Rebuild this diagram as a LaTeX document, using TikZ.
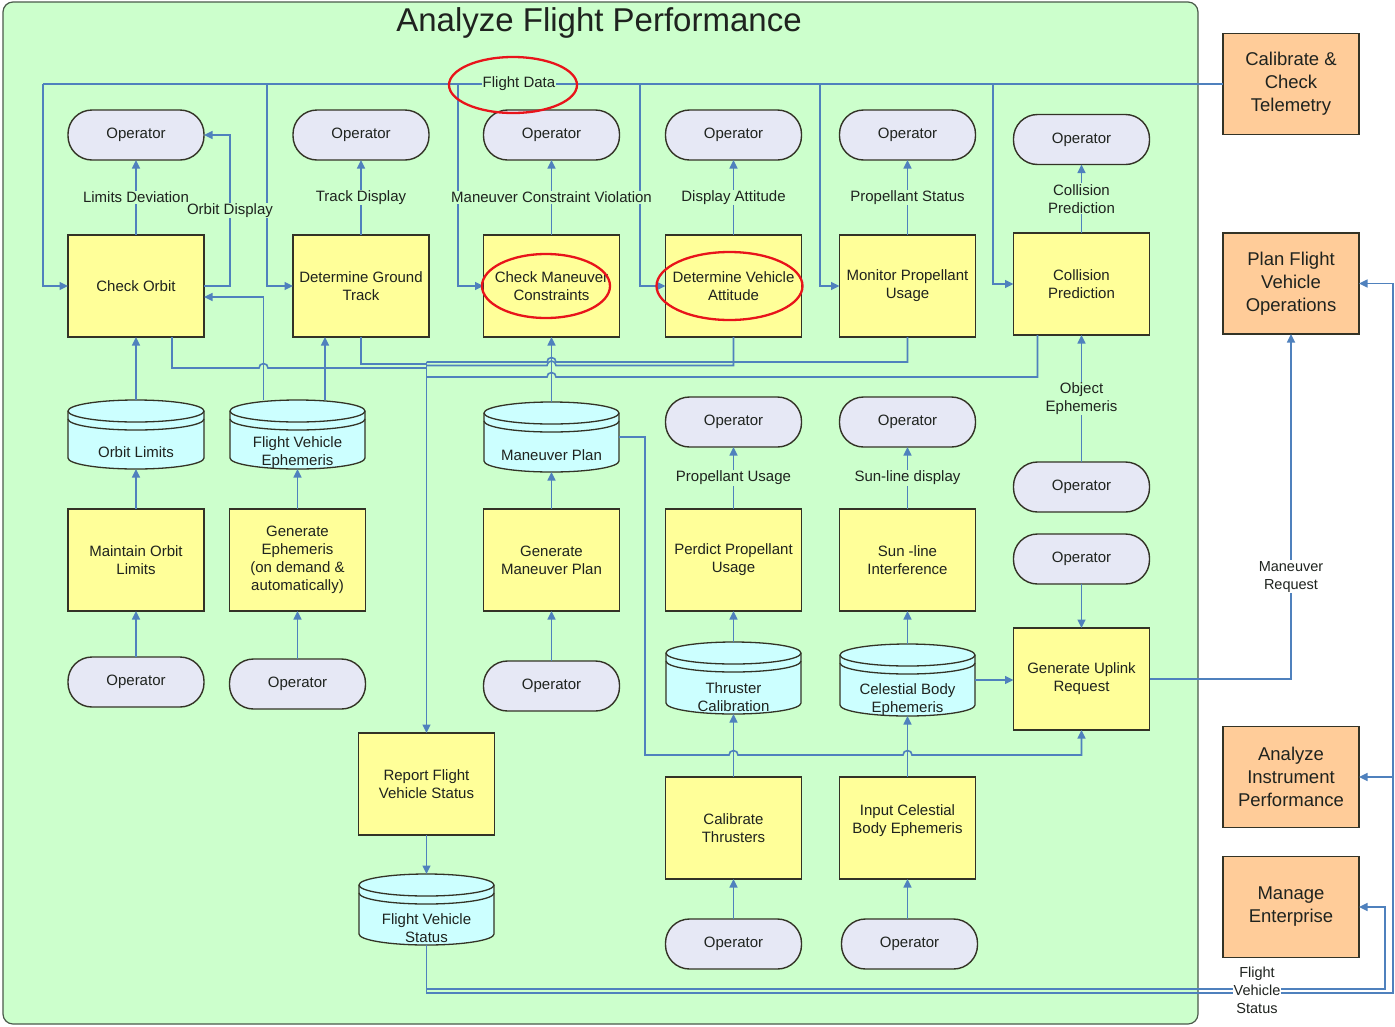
\documentclass[tikz,border=0pt]{standalone}
\usepackage{fontspec}
\setmainfont{Liberation Sans}
\usetikzlibrary{arrows.meta,calc}

\definecolor{bggreen}{HTML}{CCFFCC}
\definecolor{procfill}{HTML}{FFFF99}
\definecolor{opfill}{HTML}{E6E8F5}
\definecolor{dsfill}{HTML}{CCFFFF}
\definecolor{extfill}{HTML}{FFCC99}
\definecolor{flow}{HTML}{4F81BD}
\definecolor{edge}{HTML}{333326}
\definecolor{ink}{HTML}{1F231F}
\definecolor{ringred}{HTML}{E8141B}
\definecolor{frame}{HTML}{4A5A4A}

\tikzset{
  txt/.style={text=ink, font=\fontsize{15}{18}\selectfont},
  proc/.style={txt, draw=edge, line width=1.4pt, fill=procfill, minimum width=136pt,
    minimum height=102pt, inner sep=2pt, outer sep=0pt, align=center},
  oper/.style={txt, draw=edge, line width=1.4pt, fill=opfill, rounded corners=24pt,
    minimum width=136pt, minimum height=50pt, inner sep=2pt, outer sep=0pt},
  ext/.style={draw=edge, line width=1.4pt, fill=extfill, minimum width=136pt,
    minimum height=101pt, outer sep=0pt, align=center, text=ink,
    font=\fontsize{18.5}{23}\selectfont},
  dsline/.style={draw=edge, line width=1.3pt},
  dstext/.style={txt, align=center, inner sep=0pt},
  conn/.style={draw=flow, line width=1.6pt},
  arr/.style={conn, -{Triangle[length=8.5pt,width=8pt]}},
  lbl/.style={txt, fill=bggreen, inner sep=1pt, align=center},
  lblw/.style={lbl, fill=white, font=\fontsize{14.5}{18}\selectfont},
  ring/.style={draw=ringred, line width=2.3pt},
}

% data store: name, left, top, right, bottom, text
\newcommand\dstore[6]{%
  \filldraw[dsline, fill=dsfill] (#2,{#3+11}) -- (#2,{#5-11})
     arc[start angle=180,end angle=360,x radius={(#4-#2)/2*1pt},y radius=11pt]
     -- (#4,{#3+11})
     arc[start angle=0,end angle=180,x radius={(#4-#2)/2*1pt},y radius=11pt] -- cycle;
  \draw[dsline] (#2,{#3+11}) arc[start angle=180,end angle=360,x radius={(#4-#2)/2*1pt},y radius=11pt];
  \draw[dsline] (#2,{#3+19}) arc[start angle=180,end angle=360,x radius={(#4-#2)/2*1pt},y radius=11pt];
  \node[inner sep=0pt,outer sep=0pt,minimum width={(#4-#2)*1pt},minimum height={(#5-#3)*1pt}]
    (#1) at ({(#2+#4)/2},{(#3+#5)/2}) {};
  \node[dstext] (#1-t) at ({(#2+#4)/2},{#5-16.5}) {#6};
}

\begin{document}
\begin{tikzpicture}[x=1pt,y=-1pt]
\useasboundingbox (0,0) rectangle (1395,1026);
\fill[white] (0,0) rectangle (1395,1026);

% container
\filldraw[fill=bggreen, draw=frame, line width=1.2pt, rounded corners=10pt] (3,2) rectangle (1198,1024);
\node[text=ink, font=\fontsize{33}{38}\selectfont] (title) at (599,23) {Analyze Flight Performance};

% external processes
\node[ext] (cct) at (1291,84) {Calibrate \&\\Check\\Telemetry};
\node[ext] (pfv) at (1291,283.5) {Plan Flight\\Vehicle\\Operations};
\node[ext] (aip) at (1291,777) {Analyze\\Instrument\\Performance};
\node[ext] (men) at (1291,907) {Manage\\Enterprise};

% top row
\node[oper] (op1) at (136,135) {Operator};
\node[oper] (op2) at (361,135) {Operator};
\node[oper] (op3) at (551.5,135) {Operator};
\node[oper] (op4) at (733.5,135) {Operator};
\node[oper] (op5) at (907.5,135) {Operator};
\node[oper] (op6) at (1081.5,139.5) {Operator};

\node[proc] (co)  at (136,286) {Check Orbit};
\node[proc] (dgt) at (361,286) {Determine Ground\\Track};
\node[proc] (cmc) at (551.5,286) {Check Maneuver\\Constraints};
\node[proc] (dva) at (733.5,286) {Determine Vehicle\\Attitude};
\node[proc] (mpu) at (907.5,286) {Monitor Propellant\\Usage};
\node[proc] (cp)  at (1081.5,284) {Collision\\Prediction};

% stores, second row
\dstore{olim}{68}{400}{204}{469}{Orbit Limits}
\dstore{fve}{230}{400}{365}{469}{Flight Vehicle\\Ephemeris}
\dstore{mplan}{484}{402}{619}{472}{Maneuver Plan}
\node[oper] (opPU) at (733.5,422) {Operator};
\node[oper] (opSL) at (907.5,422) {Operator};
\node[oper] (opOE) at (1081.5,487) {Operator};
\node[oper] (opGU) at (1081.5,559) {Operator};

% third row
\node[proc] (mol) at (136,560) {Maintain Orbit\\Limits};
\node[proc] (gen) at (297.5,560) {Generate\\Ephemeris\\(on demand \&\\automatically)};
\node[proc] (gmp) at (551.5,560) {Generate\\Maneuver Plan};
\node[proc] (ppu) at (733.5,560) {Perdict Propellant\\Usage};
\node[proc] (sli) at (907.5,560) {Sun -line\\Interference};
\node[proc] (gur) at (1081.5,679) {Generate Uplink\\Request};

% fourth row
\node[oper] (opMO) at (136,682) {Operator};
\node[oper] (opGE) at (297.5,684) {Operator};
\node[oper] (opGM) at (551.5,686) {Operator};
\dstore{tcal}{666}{642}{801}{714}{Thruster\\Calibration}
\dstore{cbe}{840}{644}{975}{716}{Celestial Body\\Ephemeris}

% bottom part
\node[proc] (rfvs) at (426.5,784) {Report Flight\\Vehicle Status};
\dstore{fvs}{359}{874}{494}{945}{Flight Vehicle\\Status}
\node[proc] (cth) at (733.5,828) {Calibrate\\Thrusters};
\node[proc] (ice) at (907.5,828) {Input Celestial\\Body Ephemeris\\\mbox{}};
\node[oper] (opCT) at (733.5,944) {Operator};
\node[oper] (opIC) at (909.5,944) {Operator};

% flight data bus
\coordinate (fd1) at (43,84);
\coordinate (fd2) at (267,84);
\coordinate (fd3) at (458,84);
\coordinate (fd4) at (640,84);
\coordinate (fd5) at (820,84);
\coordinate (fd6) at (993,84);
\draw[conn] (cct.west) -- (fd1);
\draw[arr] (fd1) |- (co.west);
\draw[arr] (fd2) |- (dgt.west);
\draw[arr] (fd3) |- (cmc.west);
\draw[arr] (fd4) |- (dva.west);
\draw[arr] (fd5) |- (mpu.west);
\draw[arr] (fd6) |- (cp.west);
\node[lbl] (fdlab) at (519,84) {Flight Data};

% outputs to operators, top row
\draw[arr] (co.east) -- (230,286) -- node[lbl,pos=0.5]{Orbit Display} (230,135) -- (op1.east);
\draw[arr] (co.north) -- node[lbl]{Limits Deviation} (op1.south);
\draw[arr] (dgt.north) -- node[lbl]{Track Display} (op2.south);
\draw[arr] (cmc.north) -- node[lbl]{Maneuver Constraint Violation} (op3.south);
\draw[arr] (dva.north) -- node[lbl]{Display Attitude} (op4.south);
\draw[arr] (mpu.north) -- node[lbl]{Propellant Status} (op5.south);
\draw[arr] (cp.north) -- node[lbl]{Collision\\Prediction} (op6.south);

% stores feeding the top row
\coordinate (fveA) at (263.5,400);
\coordinate (fveB) at (325,400);
\draw[arr] (olim.north) -- (co.south);
\draw[arr] (fveA) |- ($(co.east)+(0,11)$);
\draw[arr] (fveB) -- (fveB |- dgt.south);
\draw[arr] (mplan.north) -- (cmc.south);
\draw[arr] (opOE.north) -- node[lbl]{Object\\Ephemeris} (cp.south);

% status lines merging into the report
\coordinate (jn) at (426.5,362);
\draw[conn] ($(co.south)+(36,0)$) |- (259,368) arc[start angle=180,end angle=0,radius=4.5pt] -- (jn |- 0,368);
\draw[conn] (dgt.south) |- (jn |- 0,364);
\draw[conn] (mpu.south) |- (556,362) arc[start angle=0,end angle=180,radius=4.5pt] -- (jn);
\draw[conn] (dva.south) |- (556,365.5) arc[start angle=0,end angle=180,radius=4.5pt] -- (jn |- 0,365.5);
\draw[conn] ($(cp.south)+(-44,0)$) |- (556,377) arc[start angle=0,end angle=180,radius=4.5pt] -- (jn |- 0,377);
\draw[arr] (jn) -- (rfvs.north);
\draw[arr] (rfvs.south) -- (fvs.north);

% lower flows
\draw[arr] (mol.north) -- (olim.south);
\draw[arr] (opMO.north) -- (mol.south);
\draw[arr] (gen.north) -- (fve.south);
\draw[arr] (opGE.north) -- (gen.south);
\draw[arr] (gmp.north) -- (mplan.south);
\draw[arr] (opGM.north) -- (gmp.south);
\draw[arr] (ppu.north) -- node[lbl]{Propellant Usage} (opPU.south);
\draw[arr] (tcal.north) -- (ppu.south);
\draw[arr] (cth.north) -- (tcal.south);
\draw[arr] (opCT.north) -- (cth.south);
\draw[arr] (sli.north) -- node[lbl]{Sun-line display} (opSL.south);
\draw[arr] (cbe.north) -- (sli.south);
\draw[arr] (ice.north) -- (cbe.south);
\draw[arr] (opIC.north -| ice.south) -- (ice.south);
\draw[arr] (opGU.south) -- (gur.north);
\draw[arr] (cbe.east) -- (cbe.east -| gur.west);

% maneuver plan to uplink request
\draw[arr] (mplan.east) -| (645,755) -- (729,755) arc[start angle=180,end angle=0,radius=4.5pt]
  -- (903,755) arc[start angle=180,end angle=0,radius=4.5pt] -| (gur.south);

% uplink request out
\draw[arr] (gur.east) -| node[lblw,pos=0.648]{Maneuver\\Request} (pfv.south);

% flight vehicle status out
\coordinate (rb) at (1393,993);
\draw[arr] (fvs.south) |- (1385,989) |- (men.east);
\draw[arr] (fvs.south) |- (rb) |- (pfv.east);
\draw[arr] (aip.east -| rb) -- (aip.east);
\node[lblw] (fvslab) at (1257,990) {Flight\\Vehicle\\Status};

% highlight rings
\draw[ring] (513,85) ellipse [x radius=64pt, y radius=28pt];
\draw[ring] (546,286) ellipse [x radius=64pt, y radius=32pt];
\draw[ring] (729.5,286) ellipse [x radius=73pt, y radius=34pt];
\end{tikzpicture}
\end{document}
